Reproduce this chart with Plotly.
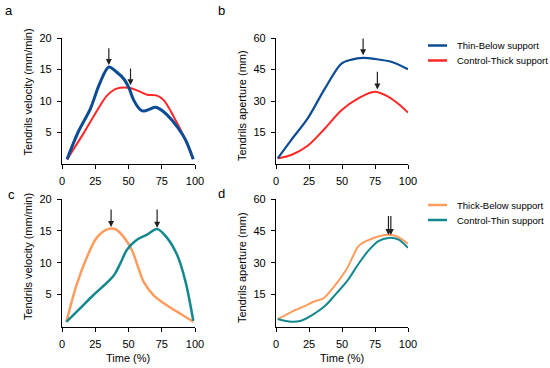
import plotly.graph_objects as go

# ---------------- data ----------------
# Panel a: tendril velocity (mm/min) vs time (%)
a_thin_below_x = [3.8, 12, 21.4, 28, 35.2, 41, 46.5, 50.3, 54, 59, 61.6, 66, 70, 73, 79, 86.7, 93, 98.7]
a_thin_below_y = [0.74, 5.0, 8.8, 12.6, 15.4, 14.6, 13.5, 12.1, 10.1, 8.6, 8.4, 8.7, 9.0, 8.8, 7.8, 5.9, 3.8, 0.74]
a_ctrl_thick_x = [3.8, 16.3, 26.4, 34, 41.5, 50.3, 59, 64, 71, 76.6, 84, 91.7, 98.3]
a_ctrl_thick_y = [0.74, 4.9, 8.5, 10.9, 12.0, 12.1, 11.45, 11.0, 10.9, 10.1, 7.5, 4.3, 0.9]

# Panel b: tendril aperture (mm)
b_thin_below_x = [1.3, 11.5, 24, 37, 49.6, 57.3, 66, 75, 87.8, 100]
b_thin_below_y = [2.7, 11.4, 21.7, 35.9, 47.8, 49.7, 50.5, 50.0, 48.6, 45.1]
b_ctrl_thick_x = [1.3, 11.5, 24, 37, 49.6, 62.3, 74.6, 85.2, 94, 100]
b_ctrl_thick_y = [2.7, 4.3, 8.7, 16.9, 25.6, 31.2, 34.4, 32.0, 28.0, 24.5]

# Panel c: tendril velocity (mm/min)
c_thick_below_x = [3.3, 10.9, 18.4, 26, 33.6, 39.9, 46.2, 52.5, 57.6, 61.4, 68.9, 79, 89, 98.7]
c_thick_below_y = [0.74, 6.5, 10.7, 13.9, 15.2, 15.3, 14.1, 12.0, 9.1, 7.0, 4.9, 3.3, 2.0, 0.74]
c_ctrl_thin_x = [3.3, 13.4, 23.5, 36, 39.9, 45, 48.7, 56.3, 64, 71.5, 79, 86.6, 92.9, 98.7]
c_ctrl_thin_y = [0.74, 2.8, 4.9, 7.3, 8.3, 10.4, 12.0, 13.6, 14.4, 15.3, 13.9, 11.2, 7.0, 0.9]

# Panel d: tendril aperture (mm)
d_thick_below_x = [1.3, 11.5, 21.6, 29.3, 35.6, 40.7, 47, 53.4, 58.5, 62.3, 68.7, 75, 82.7, 90.3, 100]
d_thick_below_y = [3.5, 6.8, 9.6, 11.9, 13.1, 16.3, 21.2, 26.9, 33.3, 37.7, 40.3, 41.9, 43.1, 42.7, 39.0]
d_ctrl_thin_x = [1.3, 11.5, 19, 26.7, 37, 45.8, 54.7, 62.3, 70, 77.6, 85.2, 92.9, 100]
d_ctrl_thin_y = [3.5, 2.2, 2.7, 5.1, 9.6, 15.6, 22.1, 29.3, 35.7, 40.2, 41.7, 40.9, 37.0]

# Peak arrows: (axis-suffix, x, y_head, y_tail)
peak_arrows = [
    ("", 35.2, 15.7, 18.6),
    ("", 51.5, 12.5, 15.4),
    ("2", 66, 51.8, 60.5),
    ("2", 76.8, 35.5, 44.6),
    ("3", 36.9, 15.6, 18.6),
    ("3", 71.5, 15.5, 18.6),
    ("4", 85.2, 43.0, 52.7),
    ("4", 87.0, 43.0, 52.7),
]

time_ticks = [0, 25, 50, 75, 100]
velocity_ticks = [5, 10, 15, 20]
aperture_ticks = [15, 30, 45, 60]

legend_top = ["Thin-Below support", "Control-Thick support"]
legend_bottom = ["Thick-Below support", "Control-Thin support"]

BLUE = "#0B4C95"
RED = "#FF2626"
ORANGE = "#FF9C5E"
TEAL = "#13898F"

W, H = 550, 368
FONT = "Liberation Sans, Arial, sans-serif"

fig = go.Figure()

def add(x, y, color, width, xa, ya):
    fig.add_trace(go.Scatter(x=x, y=y, mode="lines", line=dict(color=color, width=width, shape="spline", smoothing=0.9),
                             xaxis=xa, yaxis=ya, showlegend=False, hoverinfo="skip"))

add(a_ctrl_thick_x, a_ctrl_thick_y, RED, 2, "x", "y")
add(a_thin_below_x, a_thin_below_y, BLUE, 3, "x", "y")
add(b_ctrl_thick_x, b_ctrl_thick_y, RED, 2, "x2", "y2")
add(b_thin_below_x, b_thin_below_y, BLUE, 2.2, "x2", "y2")
add(c_thick_below_x, c_thick_below_y, ORANGE, 2.5, "x3", "y3")
add(c_ctrl_thin_x, c_ctrl_thin_y, TEAL, 2.5, "x3", "y3")
add(d_thick_below_x, d_thick_below_y, ORANGE, 2, "x4", "y4")
add(d_ctrl_thin_x, d_ctrl_thin_y, TEAL, 2, "x4", "y4")

def px_x(p):
    return p / W

def px_y(p):
    return 1 - p / H

xdom_left = [px_x(62), px_x(195)]
xdom_right = [px_x(276), px_x(408)]
ydom_top = [px_y(164), px_y(38)]
ydom_bot = [px_y(326.5), px_y(199)]

axis_common = dict(showline=True, linecolor="black", linewidth=1.3, ticks="outside", ticklen=4, tickwidth=1.2,
                   tickcolor="black", showgrid=False, zeroline=False, automargin=False,
                   tickfont=dict(size=11, color="black", family=FONT))

def xaxis(dom, anchor):
    return dict(axis_common, domain=dom, anchor=anchor, range=[0, 100], tickvals=time_ticks, ticklabelstandoff=3)

def yaxis(dom, anchor, rng, ticks):
    return dict(axis_common, domain=dom, anchor=anchor, range=rng, tickvals=ticks, ticklabelstandoff=3)

fig.update_layout(
    xaxis=xaxis(xdom_left, "y"),
    yaxis=yaxis(ydom_top, "x", [0, 20], velocity_ticks),
    xaxis2=xaxis(xdom_right, "y2"),
    yaxis2=yaxis(ydom_top, "x2", [0, 60], aperture_ticks),
    xaxis3=xaxis(xdom_left, "y3"),
    yaxis3=yaxis(ydom_bot, "x3", [0, 20], velocity_ticks),
    xaxis4=xaxis(xdom_right, "y4"),
    yaxis4=yaxis(ydom_bot, "x4", [0, 60], aperture_ticks),
)

annotations = []
for suf, x, yh, yt in peak_arrows:
    xr = "x" + suf
    yr = "y" + suf
    annotations.append(dict(x=x, y=yh, ax=x, ay=yt, xref=xr, yref=yr, axref=xr, ayref=yr, showarrow=True,
                            arrowhead=2, arrowsize=1, arrowwidth=1.2, arrowcolor="#222222", text=""))

def label(text, xx, yy, size, angle=0):
    annotations.append(dict(text=text, x=px_x(xx), y=px_y(yy), xref="paper", yref="paper", showarrow=False,
                            xanchor="center", yanchor="middle", textangle=angle,
                            font=dict(size=size, color="black", family=FONT)))

for lab, xx, yy in [("a", 9, 11), ("b", 221, 10), ("c", 11, 194), ("d", 221, 193)]:
    label(lab, xx, yy, 13)

# axis titles
label("Tendrils velocity (mm/min)", 28, 92.5, 11, -90)
label("Tendrils aperture (mm)", 242, 106, 11, -90)
label("Tendrils velocity (mm/min)", 28, 257, 11, -90)
label("Tendrils aperture (mm)", 242, 268, 11, -90)
label("Time (%)", 127.6, 358, 11)
label("Time (%)", 342, 358, 11)

shapes = []
def legend(names, colors, ys):
    for n, c, yy in zip(names, colors, ys):
        shapes.append(dict(type="line", xref="paper", yref="paper", x0=px_x(428), x1=px_x(447), y0=px_y(yy), y1=px_y(yy),
                           line=dict(color=c, width=2.5)))
        annotations.append(dict(text=n, x=px_x(455), y=px_y(yy), xref="paper", yref="paper", showarrow=False,
                                xanchor="left", yanchor="middle", font=dict(size=9.5, color="black", family=FONT)))

legend(legend_top, [BLUE, RED], [45.5, 60.5])
legend(legend_bottom, [ORANGE, TEAL], [205, 220])

fig.update_layout(annotations=annotations, shapes=shapes, width=W, height=H,
                  margin=dict(l=0, r=0, t=0, b=0, autoexpand=False), paper_bgcolor="white", plot_bgcolor="white",
                  showlegend=False, font=dict(family=FONT, color="black"))

fig.write_html("out.html", config={"displayModeBar": False},
               post_script="document.body.style.margin='0';document.body.style.overflow='hidden';")
